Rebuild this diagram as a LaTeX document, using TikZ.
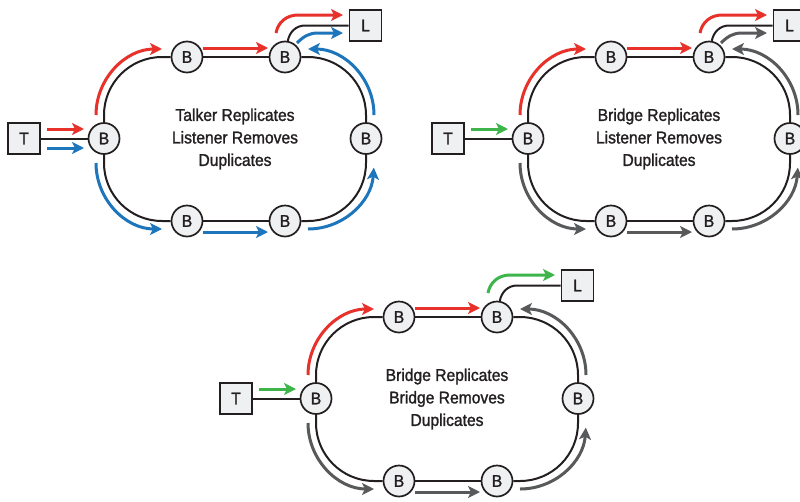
\documentclass[tikz,border=0pt]{standalone}
\usepackage{fontspec}
\setmainfont{Liberation Sans}[FakeStretch=0.92,FakeBold=1.4]
\usetikzlibrary{arrows.meta}
\definecolor{cred}{HTML}{E8312A}
\definecolor{cblue}{HTML}{1D75BC}
\definecolor{cgreen}{HTML}{3DB54A}
\definecolor{cgray}{HTML}{58595B}
\definecolor{cdark}{HTML}{231F20}
\definecolor{cfill}{HTML}{EFF0F1}
\tikzset{
  bnode/.style={circle, draw=cdark, line width=1.7pt, fill=cfill, minimum size=31pt, inner sep=0pt, text=cdark, font=\fontsize{17}{20}\selectfont},
  boxnode/.style={rectangle, draw=cdark, line width=1.7pt, fill=cfill, minimum width=32pt, minimum height=31pt, inner sep=0pt, text=cdark, font=\fontsize{17}{20}\selectfont},
  track/.style={draw=cdark, line width=2pt},
  arr/.style={line width=3pt, -{Stealth[length=12pt,width=12pt,inset=3pt]}},
  label/.style={align=center, text=cdark, font=\fontsize{17}{22.5}\selectfont}
}
\newcommand{\ringdiag}[2]{%
  \node[boxnode] (#1T) at (24,-138.5) {T};
  \node[bnode] (#1bL) at (104,-138.5) {B};
  \node[bnode] (#1bT1) at (187,-57) {B};
  \node[bnode] (#1bT2) at (285,-57) {B};
  \node[bnode] (#1bR) at (366,-138.5) {B};
  \node[bnode] (#1bB1) at (187,-221) {B};
  \node[bnode] (#1bB2) at (285,-221) {B};
  \node[boxnode] (#1L) at (365.5,-25.5) {L};
  \node[label] (#1txt) at (235,-139) {#2};
  \coordinate (#1k) at (305,-25.5);
  \draw[track, rounded corners=58pt] (#1bL.north) |- (#1bT1.west);
  \draw[track] (#1bT1) -- (#1bT2);
  \draw[track, rounded corners=58pt] (#1bT2.east) -| (#1bR.north);
  \draw[track, rounded corners=58pt] (#1bR.south) |- (#1bB2.east);
  \draw[track] (#1bB1) -- (#1bB2);
  \draw[track, rounded corners=58pt] (#1bB1.west) -| (#1bL.south);
  \draw[track] (#1T) -- (#1bL);
  \draw[track] (#1bT2.80) to[out=80,in=180] (#1k) -- (#1L.west);
}
% coloured flows, local coordinates
\newcommand{\topred}{%
  \draw[arr, cred] (96,-115) arc[start angle=180, end angle=90, radius=66];
  \draw[arr, cred] (203,-48) -- (268,-48);
}
\newcommand{\lowerflows}[1]{%
  \draw[arr, #1] (374,-115) arc[start angle=0, end angle=90, radius=66];
  \draw[arr, #1] (308,-229) arc[start angle=270, end angle=356, radius=66];
  \draw[arr, #1] (203,-232) -- (268,-232);
  \draw[arr, #1] (96,-163) arc[start angle=180, end angle=270, radius=66];
}
\newcommand{\toL}[1]{%
  \draw[arr, #1] (276,-33) to[out=80,in=180] (298,-15) -- (343,-15);
}
\begin{document}
\begin{tikzpicture}[x=1pt,y=1pt]
\useasboundingbox (0,-501) rectangle (800,0);
\fill[white] (0,-501) rectangle (800,0);
\clip (0,-501) rectangle (800,0);
% diagram 1
\begin{scope}
  \ringdiag{a}{Talker Replicates\\Listener Removes\\Duplicates}
  \topred
  \lowerflows{cblue}
  \toL{cred}
  \draw[arr, cblue] (297,-43) to[out=45,in=180] (318,-33) -- (343,-33);
  \draw[arr, cred] (47,-129) -- (84,-129);
  \draw[arr, cblue] (47,-148) -- (84,-148);
\end{scope}
% diagram 2
\begin{scope}[shift={(424,0)}]
  \ringdiag{b}{Bridge Replicates\\Listener Removes\\Duplicates}
  \topred
  \lowerflows{cgray}
  \toL{cred}
  \draw[arr, cgray] (297,-43) to[out=45,in=180] (318,-33) -- (343,-33);
  \draw[arr, cgreen] (47,-129) -- (84,-129);
\end{scope}
% diagram 3
\begin{scope}[shift={(212,-260)}]
  \ringdiag{c}{Bridge Replicates\\Bridge Removes\\Duplicates}
  \topred
  \lowerflows{cgray}
  \toL{cgreen}
  \draw[arr, cgreen] (47,-129) -- (84,-129);
\end{scope}
\end{tikzpicture}
\end{document}
